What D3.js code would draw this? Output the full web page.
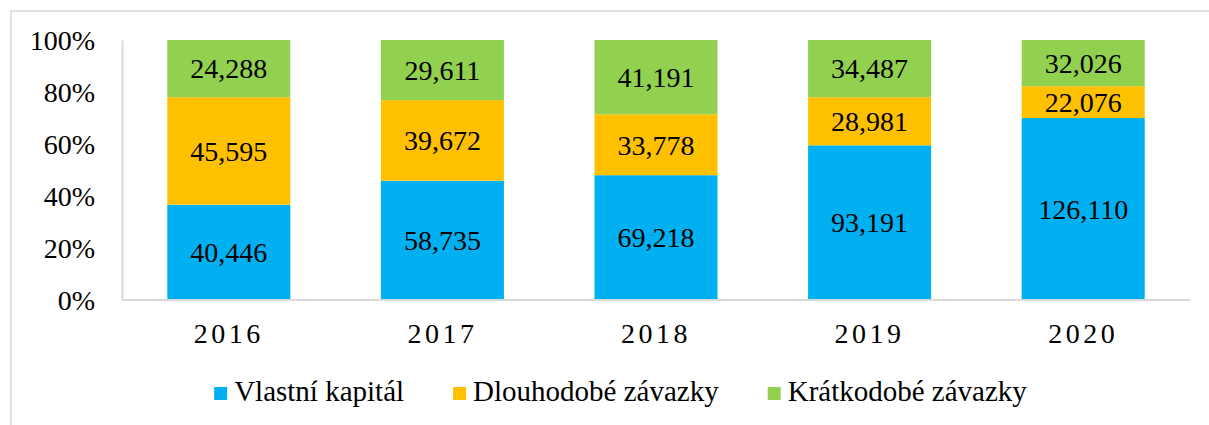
<!DOCTYPE html>
<html>
<head>
<meta charset="utf-8">
<script src="https://cdn.jsdelivr.net/npm/d3@7"></script>
<style>
  body { margin: 0; background: #fff; }
  svg { display: block; }
  text { font-family: "Liberation Serif", "Times New Roman", serif; fill: #000; }
</style>
</head>
<body>
<svg id="chart" width="1209" height="425"></svg>
<script>
const years = ["2016", "2017", "2018", "2019", "2020"];
const seriesNames = ["Vlastní kapitál", "Dlouhodobé závazky", "Krátkodobé závazky"];
const vlastniKapital = [40446, 58735, 69218, 93191, 126110];
const dlouhodobeZavazky = [45595, 39672, 33778, 28981, 22076];
const kratkodobeZavazky = [24288, 29611, 41191, 34487, 32026];
const yTicks = [0, 0.2, 0.4, 0.6, 0.8, 1.0];
const colors = ["#00B0F0", "#FFC000", "#92D050"];

const svg = d3.select("#chart");
const margin = { left: 122, right: 19, top: 40, bottom: 125 };
const W = 1209, H = 425;

// outer frame
svg.append("rect")
  .attr("x", 11).attr("y", 11)
  .attr("width", 1300).attr("height", 500)
  .attr("fill", "none").attr("stroke", "#D9D9D9").attr("stroke-width", 1.5);

const x = d3.scaleBand().domain(years)
  .range([margin.left, W - margin.right])
  .paddingInner(0.424).paddingOuter(0.212);
const y = d3.scaleLinear().domain([0, 1]).range([H - margin.bottom, margin.top]);

const rows = years.map((yr, i) => ({
  year: yr,
  s0: vlastniKapital[i], s1: dlouhodobeZavazky[i], s2: kratkodobeZavazky[i]
}));
const stack = d3.stack().keys(["s0", "s1", "s2"]).offset(d3.stackOffsetExpand);
const stacked = stack(rows);

// bars
const g = svg.append("g");
stacked.forEach((layer, li) => {
  g.selectAll(null).data(layer).enter().append("rect")
    .attr("x", d => x(d.data.year))
    .attr("width", x.bandwidth())
    .attr("y", d => y(d[1]))
    .attr("height", d => y(d[0]) - y(d[1]))
    .attr("fill", colors[li]);
  g.selectAll(null).data(layer).enter().append("text")
    .attr("x", d => x(d.data.year) + x.bandwidth() / 2)
    .attr("y", d => (y(d[0]) + y(d[1])) / 2)
    .attr("dy", "0.35em")
    .attr("text-anchor", "middle")
    .attr("font-size", 28)
    .text(d => d3.format(",")(d.data[layer.key]));
});

// y axis
const yAxis = svg.append("g")
  .attr("transform", `translate(${margin.left},0)`)
  .call(d3.axisLeft(y).tickValues(yTicks).tickFormat(d3.format(".0%")).tickSize(0).tickPadding(27));
yAxis.select(".domain").attr("stroke", "#D9D9D9").attr("stroke-width", 2);
yAxis.selectAll("text").attr("font-size", 28).attr("font-family", "Liberation Serif").attr("dy", "0.35em");

// x axis
const xAxis = svg.append("g")
  .attr("transform", `translate(0,${H - margin.bottom})`)
  .call(d3.axisBottom(x).tickSize(0).tickPadding(23));
xAxis.select(".domain").attr("stroke", "#D9D9D9").attr("stroke-width", 2)
  .attr("d", `M${margin.left},0H${W - margin.right}`);
xAxis.selectAll("text").attr("font-size", 28).attr("font-family", "Liberation Serif")
  .attr("letter-spacing", "3.5px");

// legend
const legend = svg.append("g");
const items = seriesNames.map((name, i) => {
  const gi = legend.append("g");
  gi.append("rect").attr("x", 0).attr("y", -14).attr("width", 13).attr("height", 13).attr("fill", colors[i]);
  const t = gi.append("text").attr("x", 20).attr("y", 0).attr("font-size", 29).text(name);
  return { gi, w: 20 + t.node().getComputedTextLength() };
});
const gap = 49;
const total = items.reduce((a, b) => a + b.w, 0) + gap * (items.length - 1);
let cx = 620.5 - total / 2;
items.forEach(it => {
  it.gi.attr("transform", `translate(${cx},401)`);
  cx += it.w + gap;
});
</script>
</body>
</html>
